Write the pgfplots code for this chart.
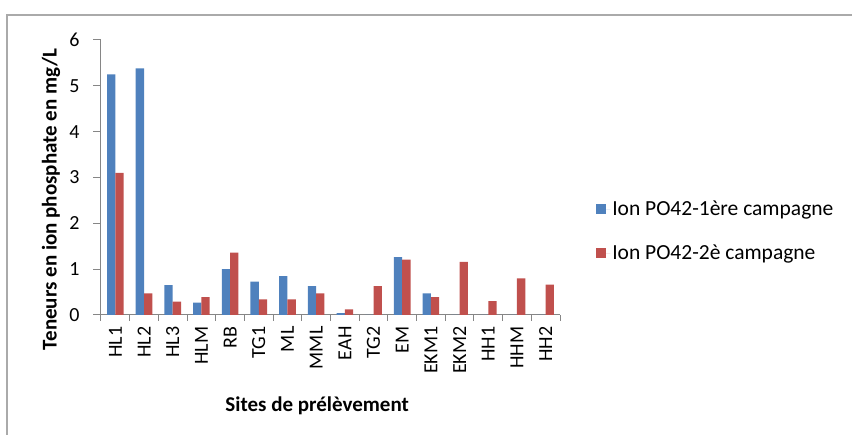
\documentclass[border=0pt]{standalone}
\usepackage{fontspec}
\setmainfont{Carlito}
\usepackage{pgfplots}
\pgfplotsset{compat=1.18}
\definecolor{xlblue}{HTML}{4F81BD}
\definecolor{xlred}{HTML}{C0504D}
\definecolor{axgray}{HTML}{868686}
\definecolor{framegray}{RGB}{170,170,170}
\begin{document}
\begin{tikzpicture}[x=1pt,y=1pt]
\useasboundingbox (0,0) rectangle (852,435);
\draw[framegray, line width=1.5pt] (7,0) -- (7,420) -- (852,420);
\begin{axis}[
  at={(101pt,120pt)}, anchor=south west,
  width=459pt, height=275pt, scale only axis,
  xmin=-0.5, xmax=15.5, ymin=0, ymax=6,
  ybar=0pt, bar width=8.3pt,
  axis x line*=bottom, axis y line*=left,
  axis line style={axgray, line width=1pt, -},
  tick align=outside,
  xtick={0,...,15},
  xticklabels={HL1,HL2,HL3,HLM,RB,TG1,ML,MML,EAH,TG2,EM,EKM1,EKM2,HH1,HHM,HH2},
  x tick label style={rotate=90, anchor=east, font=\fontsize{20}{24}\selectfont},
  major x tick style={draw=none},
  minor xtick={-0.5,0.5,...,15.5},
  minor x tick style={axgray, line width=1pt},
  minor tick length=6pt,
  ytick={0,...,6},
  major tick length=8pt,
  y tick style={axgray, line width=1pt},
  y tick label style={font=\fontsize{20}{24}\selectfont, xshift=-10pt},
  /pgf/number format/assume math mode=true,
  ylabel={\bfseries Teneurs en ion phosphate en mg/L},
  xlabel={\bfseries Sites de prélèvement},
  label style={font=\fontsize{21}{25}\selectfont},
  ylabel style={at={(axis description cs:-0.109,0.42)}, anchor=center},
  xlabel style={at={(axis description cs:0.471,-0.331)}, anchor=center},
  legend style={draw=none, fill=none, at={(1.072,0.305)}, anchor=west,
    font=\fontsize{21.5}{26}\selectfont, row sep=24pt},
  legend cell align=left,
  area legend,
  legend image code/.code={\fill[#1] (0pt,-5pt) rectangle (10pt,5pt); \path (0pt,0pt) -- (14pt,0pt);},
]
\addplot[fill=xlblue, draw=none] coordinates {
(0,5.25) (1,5.38) (2,0.65) (3,0.27) (4,1.00) (5,0.73) (6,0.85) (7,0.63)
(8,0.04) (9,0) (10,1.26) (11,0.47) (12,0) (13,0) (14,0) (15,0)};
\addplot[fill=xlred, draw=none] coordinates {
(0,3.10) (1,0.47) (2,0.29) (3,0.39) (4,1.36) (5,0.34) (6,0.34) (7,0.47)
(8,0.12) (9,0.63) (10,1.21) (11,0.39) (12,1.16) (13,0.30) (14,0.80) (15,0.66)};
\legend{Ion PO42-1ère campagne, Ion PO42-2è campagne}
\end{axis}
\end{tikzpicture}
\end{document}
